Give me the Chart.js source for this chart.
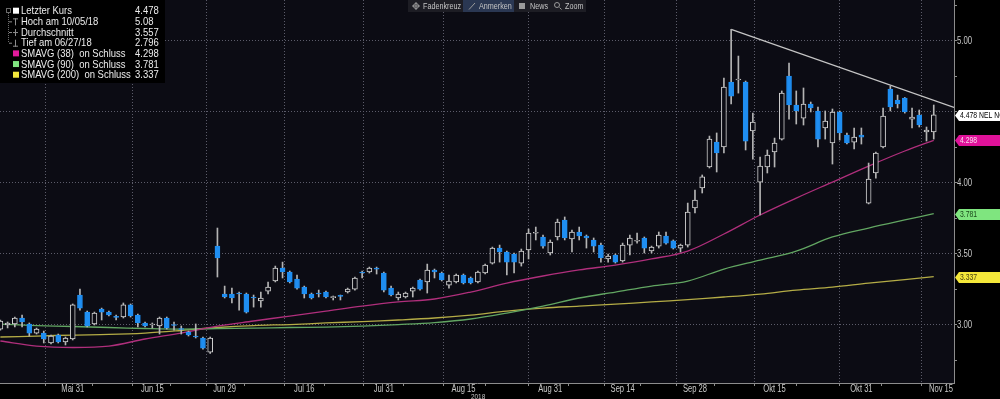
<!DOCTYPE html>
<html>
<head>
<meta charset="utf-8">
<script src="https://cdn.jsdelivr.net/npm/chart.js@4.4.0/dist/chart.umd.min.js"></script>
<style>
  html, body { margin: 0; padding: 0; background: #000; }
  #c { display: block; }
</style>
</head>
<body>
<canvas id="c" width="1000" height="399"></canvas>
<script>
// trading sessions shown (2018, MM-DD)
const sessions = [
  '05-15','05-16','05-18','05-22','05-23','05-24','05-25','05-28','05-29','05-30','05-31',
  '06-01','06-04','06-05','06-06','06-07','06-08','06-11','06-12','06-13','06-14','06-15',
  '06-18','06-19','06-20','06-21','06-22','06-25','06-26','06-27','06-28','06-29',
  '07-02','07-03','07-04','07-05','07-06','07-09','07-10','07-11','07-12','07-13','07-16',
  '07-17','07-18','07-19','07-20','07-23','07-24','07-25','07-26','07-27','07-30','07-31',
  '08-01','08-02','08-03','08-06','08-07','08-08','08-09','08-10','08-13','08-14','08-15',
  '08-16','08-17','08-20','08-21','08-22','08-23','08-24','08-27','08-28','08-29','08-30','08-31',
  '09-03','09-04','09-05','09-06','09-07','09-10','09-11','09-12','09-13','09-14',
  '09-17','09-18','09-19','09-20','09-21','09-24','09-25','09-26','09-27','09-28',
  '10-01','10-02','10-03','10-04','10-05','10-08','10-09','10-10','10-11','10-12','10-15',
  '10-16','10-17','10-18','10-19','10-22','10-23','10-24','10-25','10-26','10-29','10-30','10-31',
  '11-01','11-02','11-05','11-06','11-07','11-08','11-09','11-12','11-13','11-14'
];

const opens = [
  2.968,2.997,3.004,3.046,3.004,2.940,2.940,2.870,2.926,2.877,2.898,
  3.208,3.088,3.004,3.109,3.088,3.056,3.053,3.138,3.067,3.011,2.997,
  2.990,3.046,2.997,2.968,2.947,2.919,2.905,2.806,3.553,3.215,
  3.215,3.222,3.215,3.190,3.166,3.236,3.307,3.398,3.370,3.321,3.264,
  3.215,3.218,3.229,3.190,3.203,3.229,3.250,3.370,3.370,3.398,3.363,
  3.257,3.187,3.194,3.236,3.314,3.300,3.384,3.363,3.278,3.300,3.349,
  3.328,3.300,3.363,3.433,3.539,3.511,3.497,3.433,3.525,3.643,3.617,3.504,
  3.617,3.736,3.603,3.652,3.624,3.596,3.560,3.462,3.490,3.448,
  3.560,3.587,3.610,3.518,3.553,3.624,3.589,3.539,3.560,3.821,
  3.962,4.110,4.286,4.251,4.709,4.723,4.709,4.364,4.004,4.110,4.216,
  4.307,4.751,4.547,4.455,4.554,4.505,4.385,4.279,4.498,4.335,4.286,4.335,
  3.856,4.068,4.251,4.660,4.582,4.596,4.448,4.476,4.357,4.357
];
const highs = [
  3.032,3.018,3.053,3.067,3.011,2.975,2.954,2.926,2.933,2.912,3.145,
  3.250,3.095,3.088,3.116,3.095,3.067,3.152,3.145,3.074,3.018,3.011,
  3.053,3.053,3.018,2.990,2.954,3.004,2.912,2.912,3.680,3.271,
  3.257,3.229,3.222,3.208,3.229,3.300,3.412,3.440,3.377,3.349,3.271,
  3.222,3.243,3.236,3.201,3.208,3.257,3.335,3.377,3.405,3.405,3.370,
  3.271,3.229,3.229,3.264,3.321,3.426,3.391,3.370,3.349,3.356,3.356,
  3.335,3.377,3.426,3.546,3.560,3.518,3.504,3.532,3.673,3.687,3.631,3.596,
  3.743,3.758,3.666,3.687,3.631,3.610,3.574,3.497,3.497,3.574,
  3.631,3.645,3.617,3.553,3.652,3.652,3.596,3.567,3.856,3.948,
  4.054,4.328,4.350,4.737,5.080,4.892,4.716,4.490,4.180,4.230,4.314,
  4.646,4.843,4.646,4.667,4.568,4.533,4.505,4.519,4.505,4.350,4.385,4.385,
  4.138,4.216,4.526,4.681,4.617,4.600,4.526,4.512,4.392,4.547
];
const lows = [
  2.961,2.976,2.983,2.983,2.919,2.933,2.870,2.863,2.870,2.856,2.891,
  3.102,2.983,2.997,3.032,3.060,3.032,3.046,3.053,2.983,2.983,2.976,
  2.933,2.968,2.961,2.933,2.919,2.905,2.827,2.796,3.335,3.187,
  3.152,3.102,3.081,3.123,3.123,3.215,3.300,3.328,3.293,3.250,3.187,
  3.180,3.194,3.187,3.173,3.173,3.222,3.243,3.328,3.363,3.356,3.229,
  3.201,3.173,3.187,3.194,3.243,3.222,3.328,3.307,3.257,3.293,3.286,
  3.286,3.293,3.356,3.426,3.440,3.349,3.363,3.412,3.462,3.596,3.539,3.490,
  3.596,3.596,3.511,3.596,3.539,3.511,3.440,3.440,3.433,3.440,
  3.490,3.574,3.504,3.504,3.539,3.567,3.532,3.511,3.546,3.786,
  3.927,4.103,4.075,4.209,4.554,4.631,4.230,4.166,3.772,4.068,4.110,
  4.300,4.448,4.413,4.406,4.498,4.251,4.307,4.131,4.300,4.272,4.237,4.272,
  3.850,4.032,4.244,4.505,4.526,4.490,4.385,4.392,4.293,4.307
];
const closes = [
  3.025,3.011,3.046,3.018,2.940,2.968,2.898,2.919,2.877,2.905,3.138,
  3.116,2.990,3.081,3.088,3.067,3.050,3.138,3.060,3.011,2.990,3.000,
  3.046,2.976,2.993,2.965,2.926,2.912,2.834,2.905,3.469,3.194,
  3.187,3.215,3.088,3.187,3.187,3.264,3.398,3.370,3.300,3.257,3.215,
  3.187,3.215,3.194,3.196,3.199,3.250,3.328,3.363,3.398,3.391,3.243,
  3.208,3.215,3.222,3.257,3.250,3.384,3.370,3.314,3.307,3.349,3.293,
  3.293,3.370,3.419,3.539,3.511,3.440,3.440,3.518,3.645,3.647,3.553,3.581,
  3.722,3.610,3.652,3.624,3.610,3.553,3.469,3.483,3.440,3.560,
  3.610,3.591,3.539,3.546,3.631,3.574,3.539,3.560,3.793,3.877,
  4.040,4.307,4.209,4.674,4.610,4.730,4.293,4.427,4.117,4.194,4.279,
  4.631,4.547,4.505,4.554,4.526,4.307,4.434,4.498,4.350,4.279,4.321,4.321,
  4.025,4.209,4.469,4.533,4.554,4.498,4.462,4.406,4.371,4.478
];

// moving averages, read at these session indexes
const smaIdx = [0,5,10,15,20,25,30,35,40,45,50,55,60,65,70,75,80,85,90,95,100,105,110,115,120,125,129];
const sma38 = [2.884,2.848,2.838,2.848,2.898,2.940,2.989,3.025,3.060,3.095,3.130,3.159,3.180,3.229,
  3.292,3.342,3.385,3.419,3.462,3.518,3.638,3.772,3.891,4.004,4.117,4.223,4.298];
const sma90 = [3.003,2.993,2.986,2.979,2.972,2.968,2.972,2.975,2.979,2.982,2.989,3.000,3.014,3.039,
  3.081,3.130,3.187,3.229,3.271,3.306,3.391,3.454,3.518,3.617,3.680,3.737,3.781];
const sma200 = [2.912,2.919,2.926,2.930,2.940,2.958,2.979,2.993,3.000,3.011,3.021,3.032,3.046,3.067,
  3.095,3.116,3.130,3.144,3.159,3.176,3.194,3.215,3.243,3.264,3.292,3.317,3.337];

// hand drawn trend line (session index, price)
const trendIdx = [101, 131.8];
const trendVals = [5.08, 4.53];

const xTickDates = ['05-31','06-15','06-29','07-16','07-31','08-15','08-31','09-14','09-28','10-15','10-31','11-15'];
const xTickNames = ['Mai 31','Jun 15','Jun 29','Jul 16','Jul 31','Aug 15','Aug 31','Sep 14','Sep 28','Okt 15','Okt 31','Nov 15'];
const yTickVals = [2.75,3.0,3.25,3.5,3.75,4.0,4.25,4.5,4.75,5.0,5.25];
const yLabelVals = [3.0,3.5,4.0,5.0];

const legendRows = [
  ['Letzter Kurs', '4.478', 'box', '#ffffff'],
  ['Hoch am 10/05/18', '5.08', 'high', '#8c8c8c'],
  ['Durchschnitt', '3.557', 'avg', '#8c8c8c'],
  ['Tief am 06/27/18', '2.796', 'low', '#8c8c8c'],
  ['SMAVG (38)  on Schluss', '4.298', 'box', '#e21a9c'],
  ['SMAVG (90)  on Schluss', '3.781', 'box', '#80e480'],
  ['SMAVG (200)  on Schluss', '3.337', 'box', '#f2e63c']
];

const BG = '#0c0c14';
const BLUE = '#1f8ef1';
const HOLLOW = '#d2d2d2';
const GRID = '#5c5c6a';
const FONT = "'Liberation Sans', Arial, sans-serif";

const xLabelIdx = xTickDates.map(d => {
  const i = sessions.indexOf(d);
  return i < 0 ? sessions.length : i;
});
const xMinorIdx = [xLabelIdx[0] - 7.5];
for (let i = 1; i < xLabelIdx.length; i++) xMinorIdx.push((xLabelIdx[i - 1] + xLabelIdx[i]) / 2);
const xTicks = xLabelIdx.concat(xMinorIdx).sort((a, b) => a - b);

const isUp = i => closes[i] >= opens[i];
const pts = (idx, vals) => idx.map((x, k) => ({ x: x, y: vals[k] }));

const wicks = sessions.map((s, i) => ({ x: i, y: [lows[i], highs[i]] }));
const bodies = sessions.map((s, i) => ({ x: i, y: [opens[i], closes[i]] }));

// condensed text: the terminal font is narrower than anything installed
function text(ctx, str, x, y, sx) {
  ctx.save();
  ctx.translate(x, y);
  ctx.scale(sx, 1);
  ctx.fillText(str, 0, 0);
  ctx.restore();
}

const overlay = {
  id: 'overlay',
  beforeDraw(chart) {
    const { ctx, chartArea: a } = chart;
    ctx.save();
    ctx.fillStyle = '#000';
    ctx.fillRect(0, 0, chart.width, chart.height);
    ctx.fillStyle = BG;
    ctx.fillRect(a.left, a.top, a.right - a.left, a.bottom - a.top);
    ctx.restore();
  },
  afterDraw(chart) {
    const { ctx } = chart;
    const xs = chart.scales.x;
    const ys = chart.scales.y;
    ctx.save();

    // axis labels
    ctx.fillStyle = '#c8c8c8';
    ctx.font = '10px ' + FONT;
    ctx.textBaseline = 'middle';
    ctx.textAlign = 'center';
    xLabelIdx.forEach((v, k) => text(ctx, xTickNames[k], xs.getPixelForValue(v), 389.5, 0.76));
    ctx.textAlign = 'left';
    yLabelVals.forEach(v => text(ctx, v.toFixed(2), chart.chartArea.right + 3, ys.getPixelForValue(v) + 0.5, 0.78));
    ctx.font = '8px ' + FONT;
    text(ctx, '2018', 471, 396.5, 0.8);

    // price tags on the right axis
    const tags = [
      [closes[closes.length - 1], closes[closes.length - 1].toFixed(3) + ' NEL NO', '#ffffff', '#000000'],
      [sma38[sma38.length - 1], sma38[sma38.length - 1].toFixed(3), '#e0129a', '#f6dcec'],
      [sma90[sma90.length - 1], sma90[sma90.length - 1].toFixed(3), '#7fe57f', '#1c4a1c'],
      [sma200[sma200.length - 1], sma200[sma200.length - 1].toFixed(3), '#f5e83a', '#4a4410']
    ];
    const x0 = chart.chartArea.right + 1;
    tags.forEach(([v, txt, bg, fg]) => {
      const yc = Math.round(ys.getPixelForValue(v)) + 0.5;
      ctx.fillStyle = bg;
      ctx.beginPath();
      ctx.moveTo(x0, yc);
      ctx.lineTo(x0 + 4, yc - 5.5);
      ctx.lineTo(chart.width, yc - 5.5);
      ctx.lineTo(chart.width, yc + 5.5);
      ctx.lineTo(x0 + 4, yc + 5.5);
      ctx.closePath();
      ctx.fill();
      ctx.fillStyle = fg;
      ctx.font = '9px ' + FONT;
      text(ctx, txt, x0 + 5, yc + 0.5, 0.76);
    });

    // legend box, top left
    ctx.fillStyle = '#000';
    ctx.fillRect(0, 0, 165, 83);
    ctx.strokeStyle = '#6a6a6a';
    ctx.lineWidth = 1;
    ctx.strokeRect(6.5, 8.5, 4, 4);
    ctx.setLineDash([1, 1]);
    ctx.beginPath();
    ctx.moveTo(8.5, 13);
    ctx.lineTo(8.5, 43);
    ctx.stroke();
    ctx.setLineDash([]);
    ctx.font = '11px ' + FONT;
    legendRows.forEach(([name, val, kind, col], k) => {
      const yc = 10.7 + k * 10.67;
      ctx.fillStyle = col;
      ctx.strokeStyle = col;
      if (kind === 'box') {
        ctx.fillRect(13, yc - 3, 6, 6);
      } else {
        ctx.beginPath();
        ctx.moveTo(9, yc + 0.5); ctx.lineTo(12, yc + 0.5);
        ctx.moveTo(15.5, yc - 3); ctx.lineTo(15.5, yc + 4);
        const bar = kind === 'high' ? yc - 2.5 : kind === 'avg' ? yc + 0.5 : yc + 3.5;
        ctx.moveTo(13, bar); ctx.lineTo(18, bar);
        ctx.stroke();
      }
      ctx.fillStyle = '#ececec';
      text(ctx, name, 21, yc + 0.5, 0.86);
      text(ctx, val, 135, yc + 0.5, 0.86);
    });

    // toolbar, top centre
    ctx.fillStyle = '#1d1d24';
    ctx.fillRect(408, 0, 178, 12);
    ctx.fillStyle = '#2a3752';
    ctx.fillRect(463, 0, 51, 12);
    ctx.font = '9px ' + FONT;
    ctx.fillStyle = '#c4c4c4';
    text(ctx, 'Fadenkreuz', 423, 6.5, 0.8);
    text(ctx, 'Anmerken', 479, 6.5, 0.8);
    text(ctx, 'News', 530, 6.5, 0.8);
    text(ctx, 'Zoom', 565, 6.5, 0.8);
    ctx.strokeStyle = '#9a9a9a';
    ctx.beginPath();
    ctx.arc(416, 6, 2.5, 0, Math.PI * 2);
    ctx.moveTo(412, 6); ctx.lineTo(420, 6);
    ctx.moveTo(416, 2); ctx.lineTo(416, 10);
    ctx.moveTo(469, 9.5); ctx.lineTo(475, 3);
    ctx.moveTo(559.5, 7.5); ctx.lineTo(561.5, 9.5);
    ctx.stroke();
    ctx.beginPath();
    ctx.arc(557, 5, 2.5, 0, Math.PI * 2);
    ctx.stroke();
    ctx.fillStyle = '#9a9a9a';
    ctx.fillRect(519, 3, 6, 6);
    ctx.restore();
  }
};

new Chart(document.getElementById('c'), {
  type: 'bar',
  data: {
    datasets: [
      {
        type: 'bar', label: 'body', data: bodies, order: 0, grouped: false,
        barThickness: 5, minBarLength: 1, borderWidth: 1, borderSkipped: false,
        backgroundColor: c => isUp(c.dataIndex) ? BG : BLUE,
        borderColor: c => isUp(c.dataIndex) ? HOLLOW : BLUE
      },
      {
        type: 'bar', label: 'wick', data: wicks, order: 1, grouped: false,
        barThickness: 1, borderWidth: 0, backgroundColor: '#b4b4b4'
      },
      { type: 'line', label: 'trend', data: pts(trendIdx, trendVals), order: 2,
        borderColor: '#c6c6c6', borderWidth: 1.2, pointRadius: 0, tension: 0 },
      { type: 'line', label: 'SMAVG (38)', data: pts(smaIdx, sma38), order: 3,
        borderColor: '#b02f7c', borderWidth: 1.3, pointRadius: 0, tension: 0.35 },
      { type: 'line', label: 'SMAVG (90)', data: pts(smaIdx, sma90), order: 4,
        borderColor: '#62a662', borderWidth: 1.3, pointRadius: 0, tension: 0.35 },
      { type: 'line', label: 'SMAVG (200)', data: pts(smaIdx, sma200), order: 5,
        borderColor: '#b4ac46', borderWidth: 1.3, pointRadius: 0, tension: 0.35 }
    ]
  },
  options: {
    responsive: false,
    devicePixelRatio: 1,
    animation: false,
    layout: { padding: 0 },
    plugins: { legend: { display: false }, tooltip: { enabled: false } },
    scales: {
      x: {
        type: 'linear', min: -0.05, max: 131.8, offset: false,
        afterBuildTicks: s => { s.ticks = xTicks.map(v => ({ value: v })); },
        afterFit: s => { s.height = 16; s.paddingLeft = 0; s.paddingRight = 0; },
        grid: {
          color: c => xLabelIdx.includes(c.tick && c.tick.value) ? GRID : 'rgba(0,0,0,0)',
          tickColor: '#8c8c8c', tickLength: 3, lineWidth: 1
        },
        border: { color: '#8c8c8c', dash: [1, 2] },
        ticks: { display: false }
      },
      y: {
        position: 'right', min: 2.588, max: 5.287,
        afterBuildTicks: s => { s.ticks = yTickVals.map(v => ({ value: v })); },
        afterFit: s => { s.width = 46; s.paddingTop = 0; s.paddingBottom = 0; },
        grid: {
          color: c => (c.tick && Math.abs(c.tick.value * 2 - Math.round(c.tick.value * 2)) < 1e-6) ? GRID : 'rgba(0,0,0,0)',
          tickColor: '#8c8c8c', tickLength: 3, lineWidth: 1
        },
        border: { color: '#8c8c8c', dash: [1, 2] },
        ticks: { display: false }
      }
    }
  },
  plugins: [overlay]
});
</script>
</body>
</html>
